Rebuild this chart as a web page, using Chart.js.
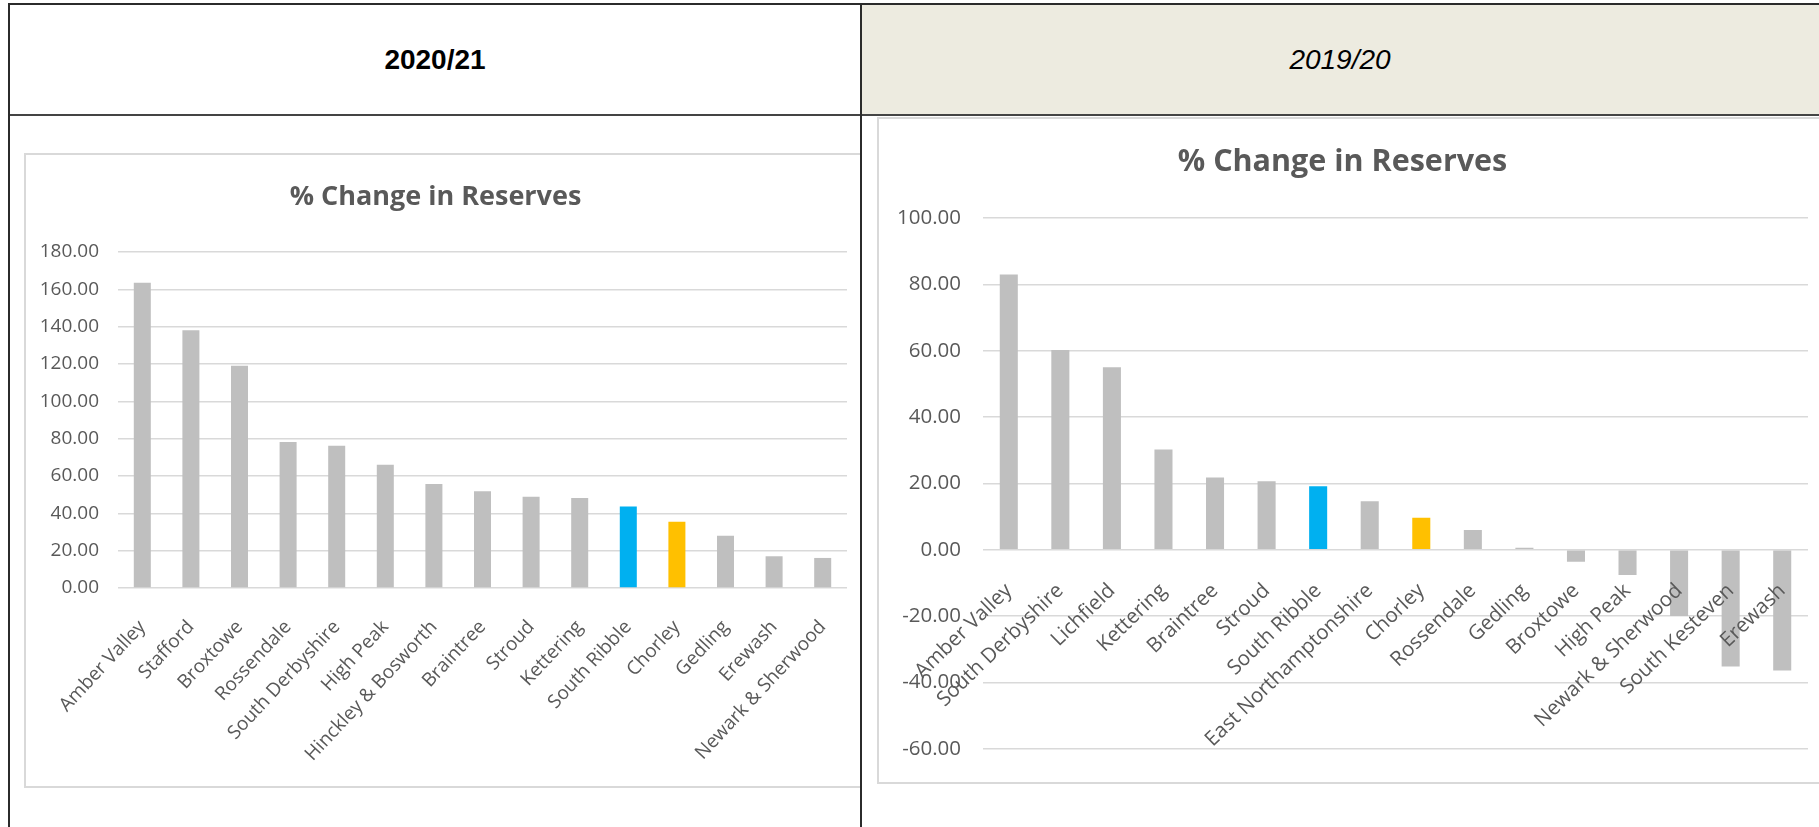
<!DOCTYPE html>
<html>
<head>
<meta charset="utf-8">
<script src="https://cdn.jsdelivr.net/npm/chart.js@4.4.0/dist/chart.umd.min.js"></script>
<style>
  html, body { margin: 0; padding: 0; background: #fff; }
  body { width: 1819px; height: 827px; overflow: hidden; position: relative; font-family: 'Liberation Sans', Arial, sans-serif; }
  .abs { position: absolute; }
  .line { position: absolute; background: #2b2b2b; z-index: 5; }
  .box { position: absolute; border: 2px solid #D9D9D9; box-sizing: border-box; background: #fff; }
  .head { position: absolute; display: flex; align-items: center; justify-content: center; font-size: 28px; color: #000; }
  canvas { position: absolute; }
</style>
</head>
<body>

<!-- table header cells -->
<div class="abs" style="left:861px;top:4px;width:958px;height:111px;background:#EDEBE0"></div>
<div class="head" style="left:9px;top:4px;width:852px;height:111px;font-weight:bold">2020/21</div>
<div class="head" style="left:861px;top:4px;width:958px;height:111px;font-style:italic">2019/20</div>

<!-- chart frames (left one runs under the column rule) -->
<div class="box" style="left:24px;top:153px;width:837px;height:635px;border-right:none"></div>
<div class="box" style="left:877px;top:117px;width:980px;height:667px"></div>

<canvas id="leftChart" width="836" height="634" style="left:24px;top:153px"></canvas>
<canvas id="rightChart" width="960" height="666" style="left:877px;top:117px"></canvas>

<!-- table rules -->
<div class="line" style="left:8px;top:3px;width:1811px;height:2px"></div>
<div class="line" style="left:8px;top:114px;width:1811px;height:2px;background:#444"></div>
<div class="line" style="left:8px;top:3px;width:2px;height:824px"></div>
<div class="line" style="left:860px;top:3px;width:2px;height:824px"></div>

<script>
// 2020/21
const leftCategories = ['Amber Valley', 'Stafford', 'Broxtowe', 'Rossendale', 'South Derbyshire', 'High Peak',
    'Hinckley & Bosworth', 'Braintree', 'Stroud', 'Kettering', 'South Ribble', 'Chorley', 'Gedling', 'Erewash',
    'Newark & Sherwood'];
const leftValues = [163.5, 138.1, 119.1, 78.2, 76.2, 66.0, 55.7, 51.8, 48.9, 48.2, 43.6, 35.5, 28.0, 17.0, 16.1];
const leftAxis = [0, 180, 20]; // min, max, step

// 2019/20
const rightCategories = ['Amber Valley', 'South Derbyshire', 'Lichfield', 'Kettering', 'Braintree', 'Stroud',
    'South Ribble', 'East Northamptonshire', 'Chorley', 'Rossendale', 'Gedling', 'Broxtowe', 'High Peak',
    'Newark & Sherwood', 'South Kesteven', 'Erewash'];
const rightValues = [83.0, 60.2, 55.0, 30.2, 21.8, 20.6, 19.1, 14.6, 9.6, 5.9, 0.6, -3.6, -7.6, -20.0, -35.2, -36.4];
const rightAxis = [-60, 100, 20];

const chartTitle = '% Change in Reserves';

function barColour(name) {
    if (name === 'South Ribble') return '#00B0F0';
    if (name === 'Chorley') return '#FFC000';
    return '#BFBFBF';
}

function makeChart(id, labels, values, axis, opt) {
    var ctx = document.getElementById(id).getContext('2d');
    return new Chart(ctx, {
        type: 'bar',
        data: {
            labels: labels,
            datasets: [{
                data: values,
                backgroundColor: labels.map(barColour),
                categoryPercentage: 1,
                barPercentage: 0.35
            }]
        },
        options: {
            responsive: false,
            animation: false,
            layout: { padding: { left: 0, right: opt.padRight, top: 0, bottom: opt.padBottom } },
            plugins: {
                legend: { display: false },
                tooltip: { enabled: false },
                title: {
                    display: true,
                    text: chartTitle,
                    color: '#595959',
                    font: { family: 'Open Sans', size: opt.titleSize, weight: 'bold' },
                    padding: { top: opt.titleTop, bottom: opt.titleBottom }
                }
            },
            scales: {
                x: {
                    position: opt.xPos,
                    grid: { display: false },
                    border: { display: false },
                    ticks: {
                        z: 1, // labels sit on top of the bars, as in Excel
                        autoSkip: false,
                        minRotation: opt.rot,
                        maxRotation: opt.rot,
                        padding: opt.xPad,
                        color: '#595959',
                        font: { family: 'Open Sans', size: opt.fontSize }
                    },
                    afterFit: function (s) {
                        if (opt.xHeight) s.height = opt.xHeight;
                        s.paddingLeft = 0;
                        s.paddingRight = 0;
                    }
                },
                y: {
                    min: axis[0],
                    max: axis[1],
                    grid: { color: '#D9D9D9', lineWidth: 1.5, drawTicks: false },
                    border: { display: false },
                    ticks: {
                        stepSize: axis[2],
                        padding: opt.yPad,
                        color: '#595959',
                        font: { family: 'Open Sans', size: opt.fontSize },
                        callback: function (v) { return Number(v).toFixed(2); }
                    },
                    afterFit: function (s) { s.width = opt.yWidth; }
                }
            }
        }
    });
}

makeChart('leftChart', leftCategories, leftValues, leftAxis, {
    padRight: 13, padBottom: 0, xHeight: 199, xPos: 'bottom', xPad: 20, rot: 47,
    yWidth: 94, yPad: 19, fontSize: 19,
    titleSize: 27, titleTop: 28, titleBottom: 38.6
});

makeChart('rightChart', rightCategories, rightValues, rightAxis, {
    padRight: 29, padBottom: 31, xHeight: null, xPos: { y: 0 }, xPad: 21, rot: 44,
    yWidth: 106, yPad: 22, fontSize: 20.5,
    titleSize: 30.5, titleTop: 27, titleBottom: 37.4
});
</script>
</body>
</html>
